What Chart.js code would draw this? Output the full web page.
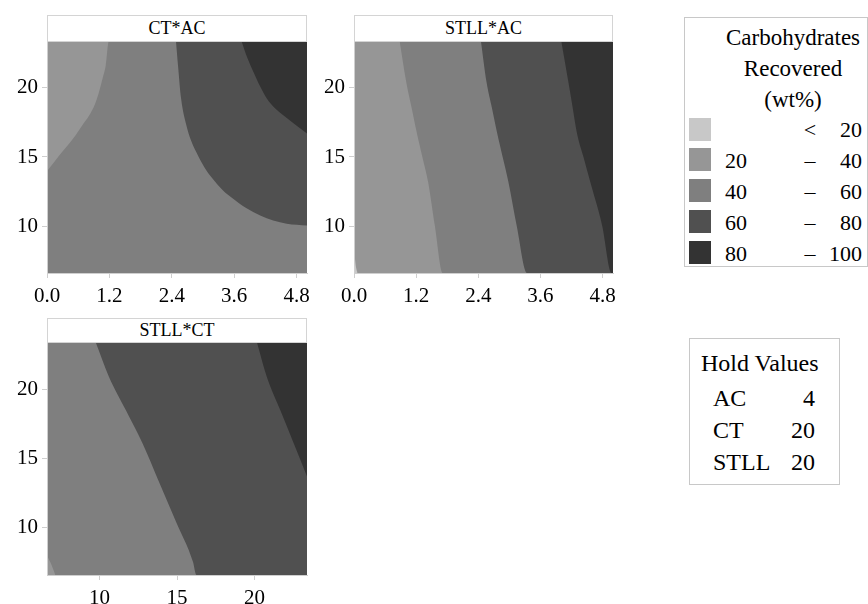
<!DOCTYPE html>
<html>
<head>
<meta charset="utf-8">
<script src="https://cdn.jsdelivr.net/npm/chart.js@4.4.1/dist/chart.umd.min.js"></script>
<style>
  body { margin: 0; background: #fff; color: #000; }
  #page { position: relative; width: 868px; height: 604px; overflow: hidden; font-family: 'Liberation Serif'; }
  canvas { position: absolute; }
  .head { position: absolute; box-sizing: border-box; border: 1px solid #d4d4d4; background: #fff;
          text-align: center; font-size: 18px; font-family: 'Liberation Serif'; }
  .box { position: absolute; box-sizing: border-box; border: 1px solid #c8c8c8; }
  .t { position: absolute; white-space: nowrap; line-height: 30px; font-family: 'Liberation Serif'; }
  .sw { position: absolute; width: 22px; height: 23px; }
</style>
</head>
<body>
<div id="page">
  <canvas id="c1" width="318" height="280" style="left:0;top:36px"></canvas>
  <canvas id="c2" width="318" height="280" style="left:307px;top:36px"></canvas>
  <canvas id="c3" width="318" height="267" style="left:0;top:337px"></canvas>
  <div class="head" style="left:47px;top:15px;width:260px;height:27px;line-height:25px">CT*AC</div>
  <div class="head" style="left:354px;top:15px;width:259px;height:27px;line-height:25px">STLL*AC</div>
  <div class="head" style="left:47px;top:318px;width:260px;height:25px;line-height:23px">STLL*CT</div>
  <div id="legend" class="box" style="left:684px;top:17px;width:184px;height:250px"></div>
  <div id="hold" class="box" style="left:689px;top:338px;width:151px;height:147px"></div>
</div>
<script>
// contour levels (wt% carbohydrates recovered)
const levelLow = ['', '20', '40', '60', '80'];
const levelSign = ['<', '–', '–', '–', '–'];
const levelHigh = ['20', '40', '60', '80', '100'];
const levelColors = ['#c8c8c8', '#969696', '#7f7f7f', '#505050', '#333333'];

// hold values
const holdNames = ['AC', 'CT', 'STLL'];
const holdValues = ['4', '20', '20'];

// axis ranges and ticks
const acRange = [0, 5];
const ctRange = [6.6, 23.4];
const stllRange = [6.6, 23.4];
const acTicks = [0, 1.2, 2.4, 3.6, 4.8];
const ctTicks = [10, 15, 20];
const stllTicks = [10, 15, 20];

// CT*AC panel: x = AC, y = CT
const ctAc40X = [0, 0.15, 0.29, 0.42, 0.55, 0.68, 0.81, 0.92, 1.0, 1.07, 1.13, 1.19, 5];
const ctAc40Y = [13.96, 14.7, 15.36, 15.95, 16.57, 17.3, 18.0, 18.8, 19.7, 20.7, 21.64, 23.4, 23.4];
const ctAc60X = [2.48, 2.52, 2.58, 2.68, 2.77, 2.87, 3.02, 3.19, 3.38, 3.58, 3.83, 4.1, 4.35, 4.61, 5];
const ctAc60Y = [23.4, 21.6, 19.2, 17.3, 16.2, 15.36, 14.3, 13.4, 12.6, 11.98, 11.3, 10.77, 10.4, 10.17, 10.04];
const ctAc80X = [3.74, 3.85, 3.97, 4.1, 4.23, 4.38, 4.55, 4.77, 5];
const ctAc80Y = [23.4, 22.2, 21.16, 20.1, 19.22, 18.55, 18.0, 17.35, 16.7];

// STLL*AC panel: x = AC, y = STLL
const stllAc20X = [0, 0.02, 0.04, 0.07];
const stllAc20Y = [8.2, 7.6, 7.0, 6.6];
const stllAc40X = [0.88, 1.01, 1.11, 1.21, 1.32, 1.43, 1.56, 1.71, 5];
const stllAc40Y = [23.4, 20.4, 18.6, 16.8, 15.0, 13.2, 10.04, 6.6, 6.6];
const stllAc60X = [2.45, 2.56, 2.66, 2.76, 2.87, 2.98, 3.14, 3.34, 5];
const stllAc60Y = [23.4, 20.4, 18.6, 16.8, 15.0, 13.2, 10.04, 6.6, 6.6];
const stllAc80X = [4.0, 4.14, 4.22, 4.3, 4.43, 4.56, 4.79, 4.97, 5];
const stllAc80Y = [23.4, 20.4, 18.6, 16.8, 15.0, 13.2, 10.04, 6.6, 6.6];

// STLL*CT panel: x = CT, y = STLL
const stllCt40X = [6.6, 6.9, 7.14];
const stllCt40Y = [8.0, 7.3, 6.6];
const stllCt60X = [9.74, 10.6, 11.69, 12.77, 13.86, 14.95, 16.03, 16.25, 23.4];
const stllCt60Y = [23.4, 20.9, 18.5, 16.1, 13.26, 10.4, 7.55, 6.6, 6.6];
const stllCt80X = [20.16, 20.8, 21.67, 22.54, 23.4];
const stllCt80Y = [23.4, 20.9, 18.5, 16.1, 13.7];

const axisGray = '#cfcfcf';
const tickFont = { family: "'Liberation Serif'", size: 21 };

function region(xs, ys, level, fill) {
  return {
    data: xs.map((x, i) => ({ x: x, y: ys[i] })),
    backgroundColor: levelColors[level],
    borderWidth: 0,
    pointRadius: 0,
    cubicInterpolationMode: 'monotone',
    fill: fill
  };
}

function contourChart(id, xRange, xTicks, xLabel, yRange, yTicks, regions, padRight, xHeight) {
  new Chart(document.getElementById(id), {
    type: 'line',
    // first region is the bottom layer, so draw order is reversed
    data: { datasets: regions.slice().reverse() },
    options: {
      responsive: false,
      animation: false,
      events: [],
      layout: { padding: { top: 5, right: padRight, left: 0, bottom: 0 } },
      plugins: { legend: { display: false }, tooltip: { enabled: false } },
      scales: {
        x: {
          type: 'linear', min: xRange[0], max: xRange[1],
          afterBuildTicks: s => { s.ticks = xTicks.map(v => ({ value: v })); },
          afterFit: s => { s.height = xHeight; s.paddingLeft = 0; s.paddingRight = 0; },
          ticks: { font: tickFont, color: '#000', padding: 6, maxRotation: 0, callback: xLabel },
          grid: { drawOnChartArea: false, tickLength: 5, color: axisGray },
          border: { color: axisGray, z: 1 }
        },
        y: {
          type: 'linear', min: yRange[0], max: yRange[1],
          afterBuildTicks: s => { s.ticks = yTicks.map(v => ({ value: v })); },
          afterFit: s => { s.width = 47; s.paddingTop = 0; s.paddingBottom = 0; },
          ticks: { font: tickFont, color: '#000', padding: 4 },
          grid: { drawOnChartArea: false, tickLength: 5, color: axisGray },
          border: { color: axisGray, z: 1 }
        }
      }
    }
  });
}

const oneDecimal = v => v.toFixed(1);
const plain = v => String(v);

contourChart('c1', acRange, acTicks, oneDecimal, ctRange, ctTicks, [
  region(acRange, [ctRange[1], ctRange[1]], 1, 'start'),
  region(ctAc40X, ctAc40Y, 2, 'start'),
  region(ctAc60X, ctAc60Y, 3, 'end'),
  region(ctAc80X, ctAc80Y, 4, 'end')
], 11, 43);

contourChart('c2', acRange, acTicks, oneDecimal, stllRange, stllTicks, [
  region(acRange, [stllRange[1], stllRange[1]], 1, 'start'),
  region(stllAc20X, stllAc20Y, 0, 'start'),
  region(stllAc40X, stllAc40Y, 2, 'end'),
  region(stllAc60X, stllAc60Y, 3, 'end'),
  region(stllAc80X, stllAc80Y, 4, 'end')
], 12, 43);

contourChart('c3', ctRange, ctTicks, plain, stllRange, stllTicks, [
  region(ctRange, [stllRange[1], stllRange[1]], 2, 'start'),
  region(stllCt40X, stllCt40Y, 1, 'start'),
  region(stllCt60X, stllCt60Y, 3, 'end'),
  region(stllCt80X, stllCt80Y, 4, 'end')
], 11, 29);

// text inside the legend boxes (positions relative to the box)
function addText(parent, text, left, top, size, align) {
  const d = document.createElement('div');
  d.className = 't';
  d.textContent = text;
  d.style.fontSize = size + 'px';
  d.style.top = top + 'px';
  if (align === 'right') d.style.right = left + 'px';
  else if (align === 'center') { d.style.left = (left - 100) + 'px'; d.style.width = '200px'; d.style.textAlign = 'center'; }
  else d.style.left = left + 'px';
  parent.appendChild(d);
}

const legend = document.getElementById('legend');
['Carbohydrates', 'Recovered', '(wt%)'].forEach((line, i) => {
  addText(legend, line, 108, 5 + i * 31, 23, 'center');
});
levelColors.forEach((c, i) => {
  const swTop = 99.5 + i * 30.9;
  const sw = document.createElement('div');
  sw.className = 'sw';
  sw.style.left = '4px';
  sw.style.top = swTop + 'px';
  sw.style.background = c;
  legend.appendChild(sw);
  addText(legend, levelLow[i], 40, swTop - 2.5, 22);
  addText(legend, levelSign[i], 125, swTop - 2.5, 22, 'center');
  addText(legend, levelHigh[i], 5, swTop - 2.5, 22, 'right');
});

const hold = document.getElementById('hold');
addText(hold, 'Hold Values', 11, 9, 24);
holdNames.forEach((n, i) => {
  const top = 44 + i * 32;
  addText(hold, n, 23, top, 24);
  addText(hold, holdValues[i], 24, top, 24, 'right');
});
</script>
</body>
</html>
